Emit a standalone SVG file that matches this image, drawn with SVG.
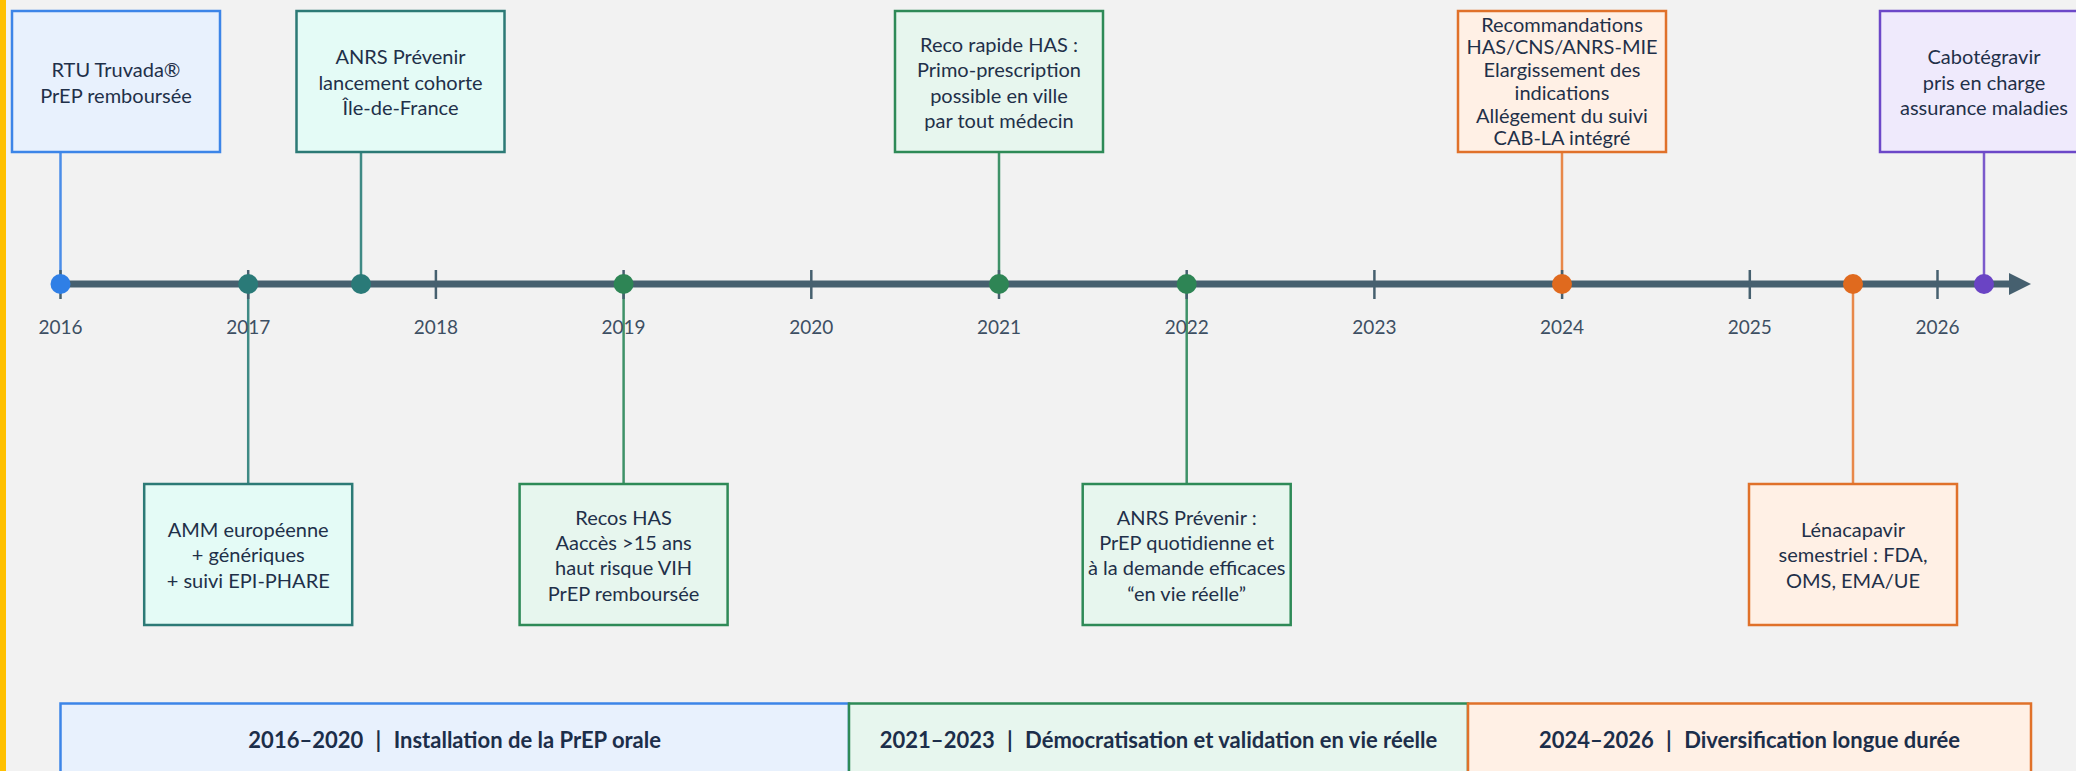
<svg xmlns="http://www.w3.org/2000/svg" width="2076" height="771" viewBox="0 0 2076 771">
<defs>
<style>
.bg{fill:#F2F2F2}
.t{font-family:Lato,"Open Sans","Liberation Sans",sans-serif;font-size:20px;fill:#1F3049;text-anchor:middle}
.yr{font-family:Lato,"Open Sans","Liberation Sans",sans-serif;font-size:19px;fill:#3D4F63;text-anchor:middle}
.pt{font-family:Lato,"Open Sans","Liberation Sans",sans-serif;font-size:22px;font-weight:bold;fill:#1C2E4A;text-anchor:middle}
.box{stroke-width:2.5}
.blue{fill:#E8F1FD;stroke:#3C85E8}
.teal{fill:#E4FBF6;stroke:#2C7A76}
.green{fill:#E7F6EE;stroke:#2E8A57}
.orange{fill:#FFF0E5;stroke:#E0712A}
.purple{fill:#EFEAFC;stroke:#6C48C8}
.stem{stroke-width:2.5;fill:none}
.tick{stroke:#46606F;stroke-width:2.5}
</style>
</defs>
<rect class="bg" x="0" y="0" width="2076" height="771"/>
<rect x="0" y="0" width="6" height="771" fill="#FFC000"/>

<!-- connectors: stems -->
<g id="connectors">
<line class="stem" x1="60.5" y1="152" x2="60.5" y2="284" stroke="#4A8DE8"/>
<line class="stem" x1="361" y1="152" x2="361" y2="284" stroke="#3F8A85"/>
<line class="stem" x1="248.2" y1="284" x2="248.2" y2="484" stroke="#3F8A85"/>
<line class="stem" x1="623.6" y1="284" x2="623.6" y2="484" stroke="#3F9268"/>
<line class="stem" x1="999" y1="152" x2="999" y2="284" stroke="#3F9268"/>
<line class="stem" x1="1186.7" y1="284" x2="1186.7" y2="484" stroke="#3F9268"/>
<line class="stem" x1="1562" y1="152" x2="1562" y2="284" stroke="#E8884A"/>
<line class="stem" x1="1853" y1="284" x2="1853" y2="484" stroke="#E8884A"/>
<line class="stem" x1="1984" y1="152" x2="1984" y2="284" stroke="#7B5ACB"/>
</g>

<!-- axis -->
<g id="axis">
<line x1="60" y1="284" x2="2012" y2="284" stroke="#46606F" stroke-width="7"/>
<polygon points="2009,273 2031,284 2009,295" fill="#46606F"/>
<line class="tick" x1="60.5" y1="270" x2="60.5" y2="299"/>
<line class="tick" x1="248.2" y1="270" x2="248.2" y2="299"/>
<line class="tick" x1="435.9" y1="270" x2="435.9" y2="299"/>
<line class="tick" x1="623.6" y1="270" x2="623.6" y2="299"/>
<line class="tick" x1="811.3" y1="270" x2="811.3" y2="299"/>
<line class="tick" x1="999" y1="270" x2="999" y2="299"/>
<line class="tick" x1="1186.7" y1="270" x2="1186.7" y2="299"/>
<line class="tick" x1="1374.4" y1="270" x2="1374.4" y2="299"/>
<line class="tick" x1="1562.1" y1="270" x2="1562.1" y2="299"/>
<line class="tick" x1="1749.8" y1="270" x2="1749.8" y2="299"/>
<line class="tick" x1="1937.5" y1="270" x2="1937.5" y2="299"/>
<text class="yr" x="60.5" y="334">2016</text>
<text class="yr" x="248.2" y="334">2017</text>
<text class="yr" x="435.9" y="334">2018</text>
<text class="yr" x="623.6" y="334">2019</text>
<text class="yr" x="811.3" y="334">2020</text>
<text class="yr" x="999" y="334">2021</text>
<text class="yr" x="1186.7" y="334">2022</text>
<text class="yr" x="1374.4" y="334">2023</text>
<text class="yr" x="1562.1" y="334">2024</text>
<text class="yr" x="1749.8" y="334">2025</text>
<text class="yr" x="1937.5" y="334">2026</text>
</g>

<!-- dots -->
<g id="dots">
<circle cx="60.5" cy="284" r="10" fill="#2F7FE6"/>
<circle cx="248.2" cy="284" r="10" fill="#2A7A78"/>
<circle cx="361" cy="284" r="10" fill="#2A7A78"/>
<circle cx="623.6" cy="284" r="10" fill="#2E8555"/>
<circle cx="999" cy="284" r="10" fill="#2E8555"/>
<circle cx="1186.7" cy="284" r="10" fill="#2E8555"/>
<circle cx="1562" cy="284" r="10" fill="#E06A1E"/>
<circle cx="1853" cy="284" r="10" fill="#E06A1E"/>
<circle cx="1984" cy="284" r="10" fill="#6A44C4"/>
</g>

<g id="n-rtu">
<rect class="box blue" x="12" y="11" width="208" height="141"/>
<text class="t" x="116" y="77.3">RTU Truvada®</text>
<text class="t" x="116" y="102.5">PrEP remboursée</text>
</g>
<g id="n-anrs-cohorte">
<rect class="box teal" x="296.5" y="11" width="208" height="141"/>
<text class="t" x="400.5" y="64">ANRS Prévenir</text>
<text class="t" x="400.5" y="89.5">lancement cohorte</text>
<text class="t" x="400.5" y="115">Île-de-France</text>
</g>
<g id="n-amm">
<rect class="box teal" x="144.2" y="484" width="208" height="141"/>
<text class="t" x="248.2" y="536.5">AMM européenne</text>
<text class="t" x="248.2" y="562">+ génériques</text>
<text class="t" x="248.2" y="587.5">+ suivi EPI-PHARE</text>
</g>
<g id="n-recos-has">
<rect class="box green" x="519.6" y="484" width="208" height="141"/>
<text class="t" x="623.6" y="524.7">Recos HAS</text>
<text class="t" x="623.6" y="550">Aaccès &gt;15 ans</text>
<text class="t" x="623.6" y="575.3">haut risque VIH</text>
<text class="t" x="623.6" y="600.6">PrEP remboursée</text>
</g>
<g id="n-reco-rapide">
<rect class="box green" x="895" y="11" width="208" height="141"/>
<text class="t" x="999" y="51.7">Reco rapide HAS :</text>
<text class="t" x="999" y="77.2">Primo-prescription</text>
<text class="t" x="999" y="102.5">possible en ville</text>
<text class="t" x="999" y="127.7">par tout médecin</text>
</g>
<g id="n-anrs-vie-reelle">
<rect class="box green" x="1082.7" y="484" width="208" height="141"/>
<text class="t" x="1186.7" y="524.7">ANRS Prévenir :</text>
<text class="t" x="1186.7" y="550">PrEP quotidienne et</text>
<text class="t" x="1186.7" y="575.3">à la demande efficaces</text>
<text class="t" x="1186.7" y="600.6">“en vie réelle”</text>
</g>
<g id="n-recommandations">
<rect class="box orange" x="1458" y="11" width="208" height="141"/>
<text class="t" x="1562" y="31.7">Recommandations</text>
<text class="t" x="1562" y="54.4">HAS/CNS/ANRS-MIE</text>
<text class="t" x="1562" y="77.1">Elargissement des</text>
<text class="t" x="1562" y="99.8">indications</text>
<text class="t" x="1562" y="122.5">Allégement du suivi</text>
<text class="t" x="1562" y="145.2">CAB-LA intégré</text>
</g>
<g id="n-lenacapavir">
<rect class="box orange" x="1749" y="484" width="208" height="141"/>
<text class="t" x="1853" y="536.5">Lénacapavir</text>
<text class="t" x="1853" y="562">semestriel : FDA,</text>
<text class="t" x="1853" y="587.5">OMS, EMA/UE</text>
</g>
<g id="n-cabotegravir">
<rect class="box purple" x="1880" y="11" width="208" height="141"/>
<text class="t" x="1984" y="64">Cabotégravir</text>
<text class="t" x="1984" y="89.5">pris en charge</text>
<text class="t" x="1984" y="115">assurance maladies</text>
</g>

<g id="periods">
<g id="p1">
<rect class="box blue" x="60.5" y="703.5" width="788.5" height="80"/>
<text class="pt" x="454.7" y="748">2016–2020<tspan dx="7"> | </tspan><tspan dx="7">Installation de la PrEP orale</tspan></text>
</g>
<g id="p2">
<rect class="box green" x="849" y="703.5" width="619" height="80"/>
<text class="pt" x="1158.5" y="748">2021–2023<tspan dx="7"> | </tspan><tspan dx="7">Démocratisation et validation en vie réelle</tspan></text>
</g>
<g id="p3">
<rect class="box orange" x="1468" y="703.5" width="563" height="80"/>
<text class="pt" x="1749.5" y="748">2024–2026<tspan dx="7"> | </tspan><tspan dx="7">Diversification longue durée</tspan></text>
</g>
</g>
</svg>
